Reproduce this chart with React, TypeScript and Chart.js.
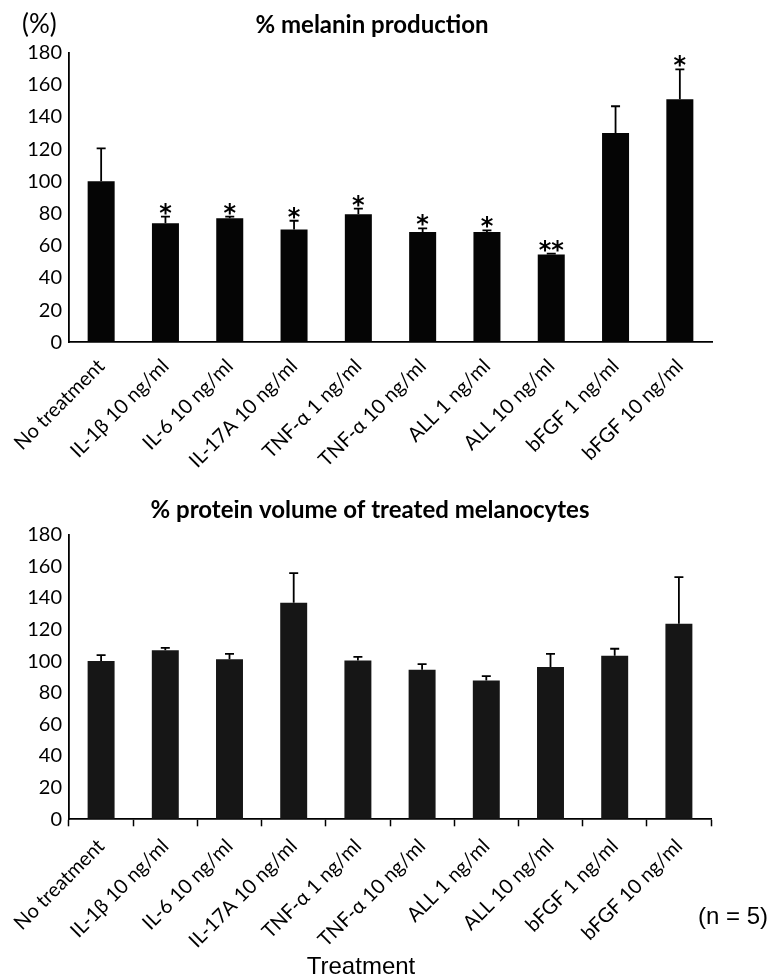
import React, { useEffect, useRef } from "react";
import { Chart, registerables } from "chart.js";

Chart.register(...registerables);

// ---------- data ----------
const categories = [
  "No treatment",
  "IL-1β 10 ng/ml",
  "IL-6 10 ng/ml",
  "IL-17A 10 ng/ml",
  "TNF-α 1 ng/ml",
  "TNF-α 10 ng/ml",
  "ALL 1 ng/ml",
  "ALL 10 ng/ml",
  "bFGF 1 ng/ml",
  "bFGF 10 ng/ml",
];

const melaninValues = [100, 74, 77, 70, 79.5, 68.5, 68.5, 54.5, 130, 151];
const melaninErrors = [20.5, 4, 1, 5.5, 3.5, 2.2, 1, 0.6, 16.6, 18.5];
const melaninSignificance = ["", "*", "*", "*", "*", "*", "*", "**", "", "*"];

const proteinValues = [100, 106.8, 101.1, 136.8, 100.4, 94.5, 87.8, 96.2, 103.3, 123.6];
const proteinErrors = [3.8, 1.6, 3.5, 18.8, 2.3, 3.6, 2.7, 8.4, 4.5, 29.5];
const proteinSignificance = ["", "", "", "", "", "", "", "", "", ""];

const yMin = 0;
const yMax = 180;
const yStep = 20;

const melaninTitle = "% melanin production";
const proteinTitle = "% protein volume of treated melanocytes";
const unitLabel = "(%)";
const nLabel = "(n = 5)";
const xTitle = "Treatment";

// ---------- style ----------
const FONT = "Lato, 'Open Sans', 'DejaVu Sans', sans-serif";
const MARK_FONT = "'DejaVu Sans', sans-serif";
const NARROW = "'Liberation Sans Narrow', 'Liberation Sans', Arial, sans-serif";

type TextItem = {
  text: string;
  x: number;
  y: number;
  font: string;
  align: CanvasTextAlign;
};

type PanelProps = {
  top: number;
  height: number;
  areaTop: number;
  areaBottom: number;
  areaRight: number;
  values: number[];
  errors: number[];
  marks: string[];
  barColor: string;
  drawXTicks: boolean;
  labelPadding: number;
  texts: TextItem[];
};

function BarPanel(props: PanelProps) {
  const ref = useRef<HTMLCanvasElement | null>(null);

  useEffect(() => {
    const canvas = ref.current;
    if (!canvas) return;
    const width = 769;

    const errorBarPlugin = {
      id: "errorBarsAndMarks",
      afterDatasetsDraw(chart: any) {
        const { ctx } = chart;
        const y = chart.scales.y;
        const meta = chart.getDatasetMeta(0);
        ctx.save();
        ctx.strokeStyle = "#000";
        ctx.lineWidth = 1.8;
        meta.data.forEach((bar: any, i: number) => {
          const yBase = y.getPixelForValue(props.values[i]);
          const yTop = y.getPixelForValue(props.values[i] + props.errors[i]);
          const x = bar.x;
          ctx.beginPath();
          ctx.moveTo(x, yBase);
          ctx.lineTo(x, yTop);
          ctx.moveTo(x - 4.5, yTop);
          ctx.lineTo(x + 4.5, yTop);
          ctx.stroke();
          const m = props.marks[i];
          if (m) {
            ctx.fillStyle = "#000";
            ctx.font = `bold 24px ${MARK_FONT}`;
            ctx.textAlign = "center";
            ctx.textBaseline = "alphabetic";
            ctx.fillText(m, x, yTop + 4);
          }
        });
        ctx.restore();
      },
      afterDraw(chart: any) {
        const { ctx } = chart;
        ctx.save();
        ctx.fillStyle = "#000";
        ctx.textBaseline = "middle";
        props.texts.forEach((t) => {
          ctx.font = t.font;
          ctx.textAlign = t.align;
          ctx.fillText(t.text, t.x, t.y);
        });
        ctx.restore();
      },
    };

    const chart = new Chart(canvas, {
      type: "bar",
      data: {
        labels: categories,
        datasets: [
          {
            data: props.values,
            backgroundColor: props.barColor,
            borderWidth: 0,
            categoryPercentage: 1,
            barPercentage: 0.42,
          },
        ],
      },
      options: {
        responsive: false,
        animation: false,
        devicePixelRatio: 1,
        layout: {
          padding: { top: props.areaTop, right: width - props.areaRight, left: 0, bottom: 0 },
        },
        plugins: {
          legend: { display: false },
          title: { display: false },
          tooltip: { enabled: false },
        },
        scales: {
          x: {
            grid: {
              display: true,
              drawOnChartArea: false,
              drawTicks: props.drawXTicks,
              tickLength: 7,
              tickWidth: 1.5,
              color: "#000",
              offset: true,
            },
            border: { display: true, color: "#000", width: 1.8 },
            ticks: {
              autoSkip: false,
              maxRotation: 45,
              minRotation: 45,
              padding: props.labelPadding,
              color: "#000",
              font: { family: FONT, size: 20 },
            },
            afterFit(scale: any) {
              scale.height = props.height - props.areaBottom;
            },
          },
          y: {
            min: yMin,
            max: yMax,
            grid: { display: true, drawOnChartArea: false, drawTicks: false },
            border: { display: true, color: "#000", width: 1.8 },
            ticks: {
              stepSize: yStep,
              padding: 7,
              color: "#000",
              font: { family: FONT, size: 20 },
            },
            afterFit(scale: any) {
              scale.width = 69;
            },
          },
        },
      },
      plugins: [errorBarPlugin],
    });

    return () => chart.destroy();
  }, []);

  return (
    <div style={{ position: "absolute", left: 0, top: props.top, width: 769, height: props.height }}>
      <canvas ref={ref} width={769} height={props.height} style={{ width: 769, height: props.height, display: "block" }} />
    </div>
  );
}

export default function App() {
  return (
    <div style={{ position: "fixed", left: 0, top: 0, width: 769, height: 977, overflow: "hidden", background: "#fff" }}>
      <BarPanel
        top={0}
        height={500}
        areaTop={52.5}
        areaBottom={342.3}
        areaRight={712}
        values={melaninValues}
        errors={melaninErrors}
        marks={melaninSignificance}
        barColor="#050505"
        drawXTicks={false}
        labelPadding={12}
        texts={[
          { text: melaninTitle, x: 372, y: 25, font: `bold 24px ${FONT}`, align: "center" },
          { text: unitLabel, x: 22, y: 25, font: `26px ${FONT}`, align: "left" },
        ]}
      />
      <BarPanel
        top={500}
        height={477}
        areaTop={34.5}
        areaBottom={319.3}
        areaRight={711}
        values={proteinValues}
        errors={proteinErrors}
        marks={proteinSignificance}
        barColor="#161616"
        drawXTicks={true}
        labelPadding={8}
        texts={[
          { text: proteinTitle, x: 370, y: 10, font: `bold 24px ${FONT}`, align: "center" },
          { text: nLabel, x: 768, y: 417, font: `24px ${NARROW}`, align: "right" },
          { text: xTitle, x: 361, y: 467, font: `24px ${NARROW}`, align: "center" },
        ]}
      />
    </div>
  );
}
